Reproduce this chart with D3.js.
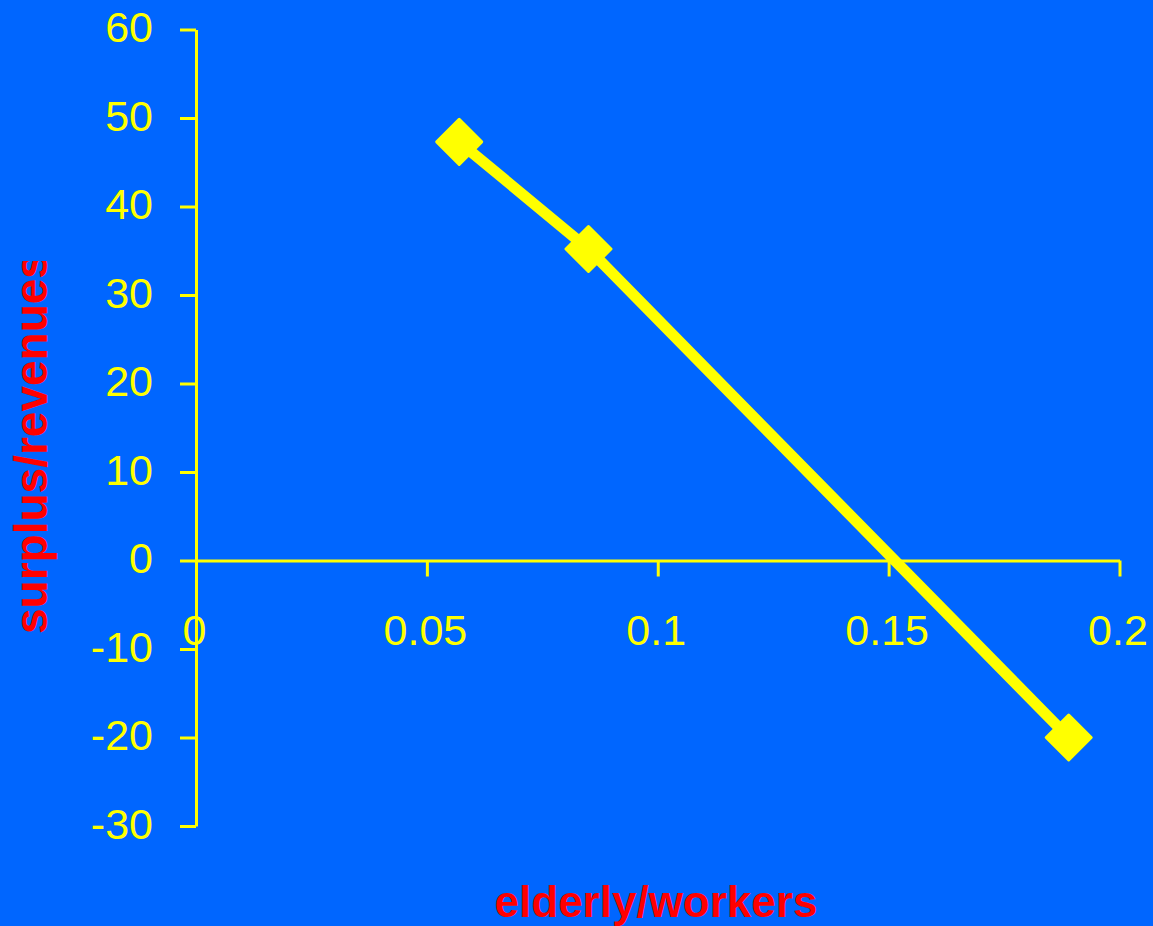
<!DOCTYPE html>
<html>
<head>
<meta charset="utf-8">
<script src="https://cdn.jsdelivr.net/npm/d3@7"></script>
<style>
  html, body { margin: 0; padding: 0; background: #0066FF; }
  svg { display: block; }
</style>
</head>
<body>
<svg id="chart" width="1153" height="926"></svg>
<script>
// Ratio of elderly to workers vs. budget surplus as a share of revenues
const ratioElderlyWorkers = [0.057, 0.085, 0.189];
const surplusRevenues = [47.3, 35.2, -20];
const xTickValues = [0, 0.05, 0.1, 0.15, 0.2];
const yTickValues = [-30, -20, -10, 0, 10, 20, 30, 40, 50, 60];
const xTitle = "elderly/workers";
const yTitle = "surplus/revenues";

const W = 1153, H = 926;
const BG = "#0066FF", YELLOW = "#FFFF00", RED = "#FF0000";
const FONT = "'Liberation Sans', Arial, Helvetica, sans-serif";

const svg = d3.select("#chart");
svg.append("rect").attr("width", W).attr("height", H).attr("fill", BG);

const x = d3.scaleLinear().domain([0, 0.2]).range([196, 1119.5]);
const y = d3.scaleLinear().domain([-30, 60]).range([826, 29.5]);

// Plain hyphen for negatives
const fmt = d => String(d);

// Y axis at x = 0
const yAxis = svg.append("g")
  .attr("transform", `translate(${x(0)},0)`)
  .call(d3.axisLeft(y).tickValues(yTickValues).tickSizeInner(16).tickSizeOuter(0)
        .tickFormat(fmt));
yAxis.select(".domain").attr("stroke", YELLOW).attr("stroke-width", 3);
yAxis.selectAll(".tick line").attr("stroke", YELLOW).attr("stroke-width", 3);
yAxis.selectAll(".tick text")
  .attr("x", -43).attr("dy", null).attr("y", 12)
  .attr("text-anchor", "end")
  .attr("fill", YELLOW).attr("font-family", FONT).attr("font-size", 43);

// X axis at y = 0, labels hang well below the line
const xAxis = svg.append("g")
  .attr("transform", `translate(0,${y(0)})`)
  .call(d3.axisBottom(x).tickValues(xTickValues).tickSizeInner(16).tickSizeOuter(0)
        .tickFormat(fmt));
xAxis.select(".domain").attr("stroke", YELLOW).attr("stroke-width", 3);
xAxis.selectAll(".tick line").attr("stroke", YELLOW).attr("stroke-width", 3);
xAxis.selectAll(".tick text")
  .attr("y", 84).attr("dy", null)
  .attr("x", -2)
  .attr("text-anchor", "middle")
  .attr("fill", YELLOW).attr("font-family", FONT).attr("font-size", 43);

// Series line
const pts = ratioElderlyWorkers.map((v, i) => [v, surplusRevenues[i]]);
svg.append("path")
  .datum(pts)
  .attr("fill", "none")
  .attr("stroke", YELLOW)
  .attr("stroke-width", 11)
  .attr("stroke-linejoin", "miter")
  .attr("d", d3.line().x(d => x(d[0])).y(d => y(d[1])));

// Diamond markers
const r = 22.5;
svg.append("g").selectAll("path")
  .data(pts)
  .join("path")
  .attr("transform", d => `translate(${x(d[0])},${y(d[1])})`)
  .attr("d", `M0,${-r}L${r},0L0,${r}L${-r},0Z`)
  .attr("fill", YELLOW)
  .attr("stroke", YELLOW)
  .attr("stroke-width", 3)
  .attr("stroke-linejoin", "round");

// Axis titles
svg.append("text")
  .attr("x", 656).attr("y", 917)
  .attr("text-anchor", "middle")
  .attr("fill", RED).attr("font-family", FONT)
  .attr("font-weight", "bold").attr("font-size", 44)
  .text(xTitle);

svg.append("clipPath").attr("id", "ytitle-clip")
  .append("rect").attr("x", 0).attr("y", 261).attr("width", 120).attr("height", 600);

svg.append("g").attr("clip-path", "url(#ytitle-clip)")
  .append("text")
  .attr("transform", "translate(47,634) rotate(-90)")
  .attr("text-anchor", "start")
  .attr("fill", RED).attr("font-family", FONT)
  .attr("font-weight", "bold").attr("font-size", 46)
  .text(yTitle);
</script>
</body>
</html>
